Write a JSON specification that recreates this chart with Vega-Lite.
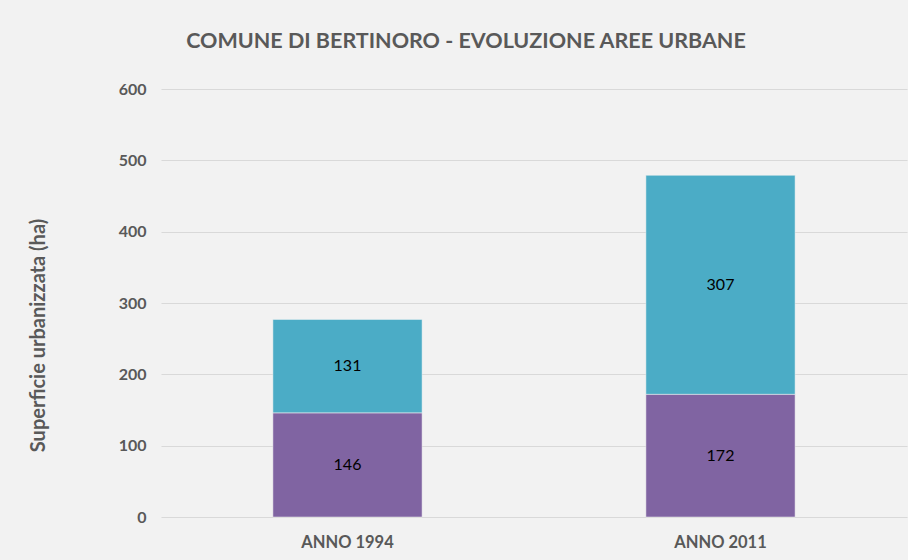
{
  "$schema": "https://vega.github.io/schema/vega-lite/v6.json",
  "autosize": {"type": "none"},
  "padding": {"left": 161, "top": 89, "right": 1, "bottom": 43},
  "width": 746,
  "height": 428,
  "background": "#f2f2f2",
  "config": {
    "view": {"stroke": null},
    "font": "Lato"
  },
  "title": {
    "text": "COMUNE DI BERTINORO - EVOLUZIONE AREE URBANE",
    "font": "Lato",
    "fontSize": 21.5,
    "fontWeight": "bold",
    "color": "#595959",
    "anchor": "middle",
    "dx": -68,
    "offset": 29
  },
  "data": {
    "values": [
      {"anno": "ANNO 1994", "serie": "Serie 1", "ord": 1, "ha": 146},
      {"anno": "ANNO 1994", "serie": "Serie 2", "ord": 2, "ha": 131},
      {"anno": "ANNO 2011", "serie": "Serie 1", "ord": 1, "ha": 172},
      {"anno": "ANNO 2011", "serie": "Serie 2", "ord": 2, "ha": 307}
    ]
  },
  "encoding": {
    "x": {
      "field": "anno",
      "type": "nominal",
      "scale": {"paddingInner": 0.6, "paddingOuter": 0.3},
      "axis": {
        "title": null,
        "labelAngle": 0,
        "ticks": false,
        "domain": false,
        "labelFont": "Lato",
        "labelFontSize": 16.5,
        "labelFontWeight": "bold",
        "labelColor": "#595959",
        "labelPadding": 17
      }
    }
  },
  "layer": [
    {
      "mark": {"type": "bar", "stroke": "#f2f2f2", "strokeWidth": 0.5},
      "encoding": {
        "y": {
          "field": "ha",
          "type": "quantitative",
          "stack": "zero",
          "scale": {"domain": [0, 600]},
          "axis": {
            "values": [0, 100, 200, 300, 400, 500, 600],
            "title": "Superficie urbanizzata (ha)",
            "titleFont": "Lato",
            "titleFontSize": 20,
            "titleFontWeight": "bold",
            "titleColor": "#595959",
            "titleAngle": -90,
            "titleX": -123,
            "titleY": 246,
            "titleAlign": "center",
            "titleBaseline": "middle",
            "labelFont": "Lato",
            "labelFontSize": 16,
            "labelFontWeight": "bold",
            "labelColor": "#595959",
            "labelPadding": 15,
            "ticks": false,
            "domain": false,
            "gridColor": "#d9d9d9",
            "gridWidth": 1
          }
        },
        "color": {
          "field": "serie",
          "type": "nominal",
          "scale": {"domain": ["Serie 1", "Serie 2"], "range": ["#8064a2", "#4bacc6"]},
          "legend": null
        },
        "order": {"field": "ord", "type": "quantitative"}
      }
    },
    {
      "mark": {"type": "text", "font": "Lato", "fontSize": 16, "color": "#000000", "baseline": "middle"},
      "encoding": {
        "y": {"field": "ha", "type": "quantitative", "stack": "zero", "bandPosition": 0.5},
        "order": {"field": "ord", "type": "quantitative"},
        "detail": {"field": "serie"},
        "text": {"field": "ha", "type": "quantitative"}
      }
    }
  ]
}
